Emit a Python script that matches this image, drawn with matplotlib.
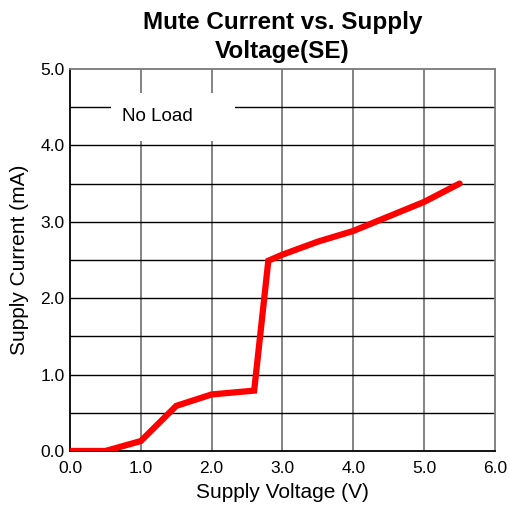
import matplotlib
matplotlib.use("Agg")
import matplotlib.pyplot as plt

plt.rcParams['font.family'] = ['Liberation Sans', 'DejaVu Sans']

# supply voltage (V) vs mute current (mA)
voltage = [0.0, 0.5, 1.0, 1.5, 2.0, 2.6, 2.8, 3.0, 3.5, 4.0, 4.5, 5.0, 5.5]
current = [0.0, 0.0, 0.13, 0.59, 0.74, 0.79, 2.49, 2.57, 2.74, 2.88, 3.07, 3.26, 3.50]

xticks = [0, 1, 2, 3, 4, 5, 6]
yticks = [0, 1, 2, 3, 4, 5]
ygrid = [0.5, 1.0, 1.5, 2.0, 2.5, 3.0, 3.5, 4.0, 4.5]

fig = plt.figure(figsize=(5.09, 5.07), dpi=100)
ax = fig.add_axes([0.1375, 0.1105, 0.835, 0.7535])

for v in xticks[1:-1]:
    ax.axvline(v, color='#7a7a7a', lw=1.3, zorder=1)
for c in ygrid:
    ax.axhline(c, color='black', lw=1.0, zorder=1)

ax.plot(voltage, current, color='#ff0000', lw=4.5, solid_capstyle='round',
        solid_joinstyle='miter', zorder=3)

# white label box hides the grid behind "No Load"
ax.add_patch(plt.Rectangle((0.58, 4.06), 1.75, 0.63, fc='white', ec='none', zorder=2))
ax.text(0.73, 4.38, 'No Load', fontsize=13.5, va='center', ha='left', zorder=4)

ax.set_xlim(0, 6)
ax.set_ylim(0, 5)
ax.set_xticks(xticks)
ax.set_yticks(yticks)
ax.set_xticklabels([f'{v:.1f}' for v in xticks], fontsize=12.5)
ax.set_yticklabels([f'{v:.1f}' for v in yticks], fontsize=12.5)
ax.tick_params(axis='x', length=0, pad=7)
ax.tick_params(axis='y', length=0, pad=4)

ax.spines['left'].set_color('black')
ax.spines['bottom'].set_color('black')
ax.spines['top'].set_color('#7a7a7a')
ax.spines['right'].set_color('#7a7a7a')
for s in ax.spines.values():
    s.set_linewidth(1.3)

ax.set_xlabel('Supply Voltage (V)', fontsize=15, labelpad=5)
ax.set_ylabel('Supply Current (mA)', fontsize=15, labelpad=8)
ax.set_title('Mute Current vs. Supply\nVoltage(SE)', fontsize=17.5, fontweight='bold',
             pad=8, linespacing=1.3)

fig.savefig('out.png', dpi=100)
